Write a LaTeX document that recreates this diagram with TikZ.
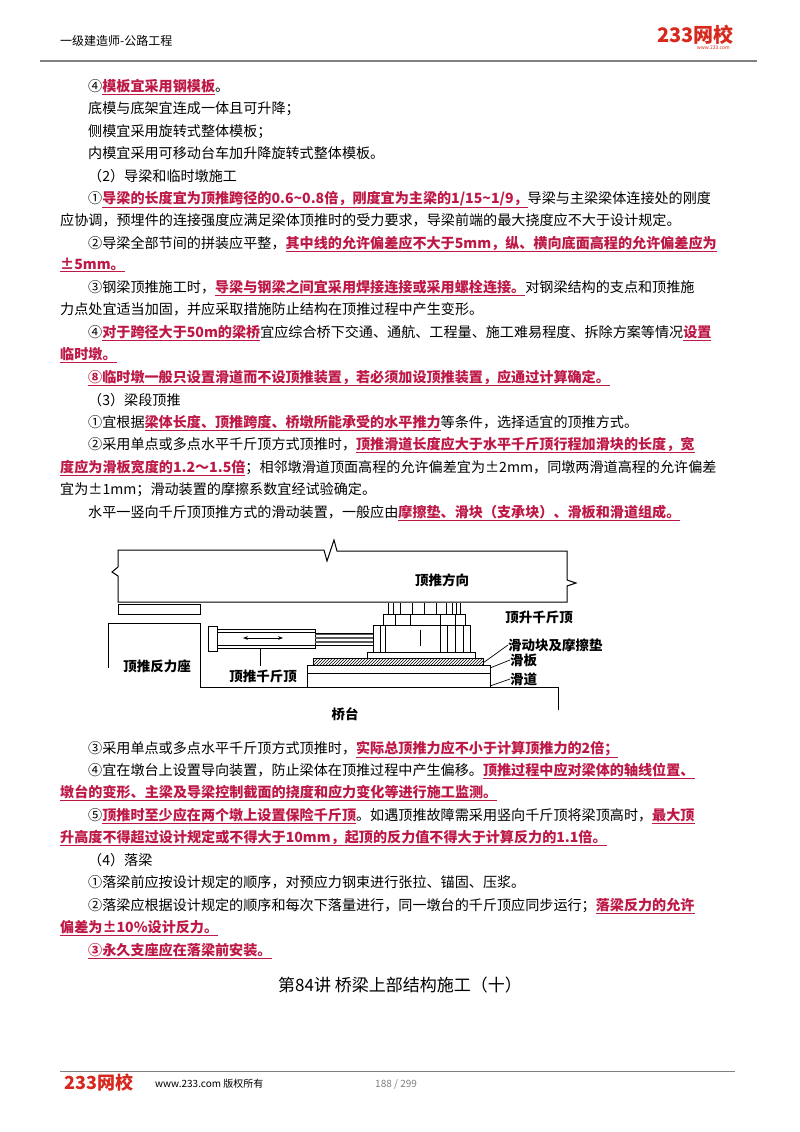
\documentclass[tikz,border=0pt]{standalone}
\usepackage{fontspec}
\setmainfont{Noto Sans CJK SC}
\usetikzlibrary{patterns,arrows.meta}
\definecolor{hl}{RGB}{190,25,70}
\definecolor{logo}{RGB}{215,40,30}
\newcommand{\R}[1]{{\color{hl}\bfseries\underline{#1}}}
\tikzset{ln/.style={anchor=base west,inner sep=0,font=\fontsize{14.1}{14}\selectfont},
lbl/.style={inner sep=0,font=\fontsize{13.5}{14}\selectfont\bfseries},
fig/.style={line width=1pt}}
\begin{document}
\begin{tikzpicture}[x=1pt,y=-1pt]
\useasboundingbox (0,0) rectangle (800,1132);
\fill[white] (0,0) rectangle (800,1132);
% header
\node[anchor=west,inner sep=0,font=\fontsize{12}{12}\selectfont] (hd) at (60,41) {一级建造师-公路工程};
\node[anchor=east,inner sep=0,font=\fontsize{20}{20}\selectfont\bfseries\itshape,text=logo] (lg) at (734,35) {233网校};
\node[anchor=east,inner sep=0,font=\fontsize{5}{5}\selectfont\itshape,text=logo] (lgw) at (730,48) {www.233.com};
\draw[line width=1.5pt,gray] (40,61) -- (757,61);
% body
\def\ix{88}\def\fx{60}
\node[ln] (l1) at (\ix,91) {④\R{模板宜采用钢模板}。};
\node[ln] (l2) at (\ix,113) {底模与底架宜连成一体且可升降；};
\node[ln] (l3) at (\ix,136) {侧模宜采用旋转式整体模板；};
\node[ln] (l4) at (\ix,158) {内模宜采用可移动台车加升降旋转式整体模板。};
\node[ln] (l5) at (\ix,181) {（2）导梁和临时墩施工};
\node[ln] (l6) at (\ix,203) {①\R{导梁的长度宜为顶推跨径的0.6\textasciitilde0.8倍，刚度宜为主梁的1/15\textasciitilde1/9，}导梁与主梁梁体连接处的刚度};
\node[ln] (l7) at (\fx,225) {应协调，预埋件的连接强度应满足梁体顶推时的受力要求，导梁前端的最大挠度应不大于设计规定。};
\node[ln] (l8) at (\ix,248) {②导梁全部节间的拼装应平整，\R{其中线的允许偏差应不大于5mm，纵、横向底面高程的允许偏差应为}};
\node[ln] (l9) at (\fx,269) {\R{±5mm。}};
\node[ln] (l10) at (\ix,292) {③钢梁顶推施工时，\R{导梁与钢梁之间宜采用焊接连接或采用螺栓连接。}对钢梁结构的支点和顶推施};
\node[ln] (l11) at (\fx,314) {力点处宜适当加固，并应采取措施防止结构在顶推过程中产生变形。};
\node[ln] (l12) at (\ix,337) {④\R{对于跨径大于50m的梁桥}宜应综合桥下交通、通航、工程量、施工难易程度、拆除方案等情况\R{设置}};
\node[ln] (l13) at (\fx,359) {\R{临时墩。}};
\node[ln] (l14) at (\ix,382) {\R{⑧临时墩一般只设置滑道而不设顶推装置，若必须加设顶推装置，应通过计算确定。}};
\node[ln] (l15) at (\ix,405) {（3）梁段顶推};
\node[ln] (l16) at (\ix,427) {①宜根据\R{梁体长度、顶推跨度、桥墩所能承受的水平推力}等条件，选择适宜的顶推方式。};
\node[ln] (l17) at (\ix,449) {②采用单点或多点水平千斤顶方式顶推时，\R{顶推滑道长度应大于水平千斤顶行程加滑块的长度，宽}};
\node[ln] (l18) at (\fx,472) {\R{度应为滑板宽度的1.2～1.5倍}；相邻墩滑道顶面高程的允许偏差宜为±2mm，同墩两滑道高程的允许偏差};
\node[ln] (l19) at (\fx,494) {宜为±1mm；滑动装置的摩擦系数宜经试验确定。};
\node[ln] (l20) at (\ix,517) {水平一竖向千斤顶顶推方式的滑动装置，一般应由\R{摩擦垫、滑块（支承块）、滑板和滑道组成。}};
% figure
\draw[fig] (118,602) -- (118,576) -- (112,572) -- (118,567) -- (118,550) -- (324,550) -- (327,561) -- (334,540) -- (337,551) -- (567,551) -- (567,580) -- (576,583) -- (567,586) -- (567,602) -- cycle;
\node[lbl] (dir) at (442,580) {顶推方向};
\draw[fig] (118,604) rectangle (200,614);
\draw[fig] (108,668) -- (108,623) -- (200,623) -- (200,687) -- (558,687) -- (558,710);
\node[lbl] (fz) at (157,666) {顶推反力座};
\draw[fig] (307,665) rectangle (490,687);
\draw[line width=0.7pt] (307,673) -- (490,673);
\draw[fig,pattern=north east lines] (313,658) rectangle (483,665);
\draw[fig] (367,652) rectangle (475,658);
\draw[fig] (373,625) rectangle (470,652);
\foreach \x in {380,385,440,447,455,463} \draw[line width=0.6pt] (\x,625) -- (\x,652);
\draw[line width=0.8pt] (420,630) -- (420,646);
\draw[fig] (383,614) rectangle (465,625);
\foreach \x in {395,410,440,455} \draw[line width=0.6pt] (\x,614) -- (\x,625);
\draw[fig] (388,603) -- (388,614); \draw[fig] (460,603) -- (460,614);
\foreach \x in {393,400,412,424,436,446,452,456} \draw[line width=0.6pt] (\x,603) -- (\x,614);
\draw[fig] (208,626) rectangle (217,651);
\draw[fig] (217,629) rectangle (315,648);
\draw[line width=0.5pt] (217,632) -- (315,632); \draw[line width=0.5pt] (217,645) -- (315,645);
\draw[line width=1.2pt,gray!70!black] (315,634) -- (373,634) (315,638) -- (373,638) (315,642) -- (373,642);
\draw[line width=0.6pt] (315,633) -- (373,633) (315,645) -- (373,645);
\draw[{Stealth[length=5pt]}-{Stealth[length=5pt]},line width=0.7pt] (243,638) -- (283,638);
\coordinate (jk) at (260,648);
\node[lbl] (tj) at (263,676) {顶推千斤顶};
\draw[line width=0.8pt] (jk) -- (260,666);
\node[lbl] (ts) at (539,617) {顶升千斤顶};
\node[lbl,anchor=west] (hk) at (508,645) {滑动块及摩擦垫};
\node[lbl,anchor=west] (hb) at (510,660) {滑板};
\node[lbl,anchor=west] (hd2) at (510,679) {滑道};
\coordinate (p1) at (483,663); \coordinate (p2) at (490,668); \coordinate (p3) at (490,686);
\draw[line width=0.7pt] (p1) -- (hk.west);
\draw[line width=0.7pt] (p2) -- (hb.west);
\draw[line width=0.7pt] (p3) -- (hd2.west);
\node[lbl] (qt) at (345,714) {桥台};
% after figure
\node[ln] (m1) at (\ix,753) {③采用单点或多点水平千斤顶方式顶推时，\R{实际总顶推力应不小于计算顶推力的2倍；}};
\node[ln] (m2) at (\ix,775) {④宜在墩台上设置导向装置，防止梁体在顶推过程中产生偏移。\R{顶推过程中应对梁体的轴线位置、}};
\node[ln] (m3) at (\fx,797) {\R{墩台的变形、主梁及导梁控制截面的挠度和应力变化等进行施工监测。}};
\node[ln] (m4) at (\ix,820) {⑤\R{顶推时至少应在两个墩上设置保险千斤顶}。如遇顶推故障需采用竖向千斤顶将梁顶高时，\R{最大顶}};
\node[ln] (m5) at (\fx,842) {\R{升高度不得超过设计规定或不得大于10mm，起顶的反力值不得大于计算反力的1.1倍。}};
\node[ln] (m6) at (\ix,865) {（4）落梁};
\node[ln] (m7) at (\ix,887) {①落梁前应按设计规定的顺序，对预应力钢束进行张拉、锚固、压浆。};
\node[ln] (m8) at (\ix,910) {②落梁应根据设计规定的顺序和每次下落量进行，同一墩台的千斤顶应同步运行；\R{落梁反力的允许}};
\node[ln] (m9) at (\fx,932) {\R{偏差为±10\%设计反力。}};
\node[ln] (m10) at (\ix,955) {\R{③永久支座应在落梁前安装。}};
\node[inner sep=0,font=\fontsize{17}{17}\selectfont] (tt) at (400,985) {第84讲\ 桥梁上部结构施工（十）};
% footer
\draw[line width=0.6pt,gray] (60,1071) -- (735,1071);
\node[anchor=west,inner sep=0,font=\fontsize{18}{18}\selectfont\bfseries\itshape,text=logo] (fl) at (64,1083) {233网校};
\node[anchor=west,inner sep=0,font=\fontsize{10}{10}\selectfont] (fw) at (155,1084) {www.233.com 版权所有};
\node[anchor=west,inner sep=0,font=\fontsize{10}{10}\selectfont,text=gray] (pg) at (375,1084) {188 / 299};
\end{tikzpicture}
\end{document}
